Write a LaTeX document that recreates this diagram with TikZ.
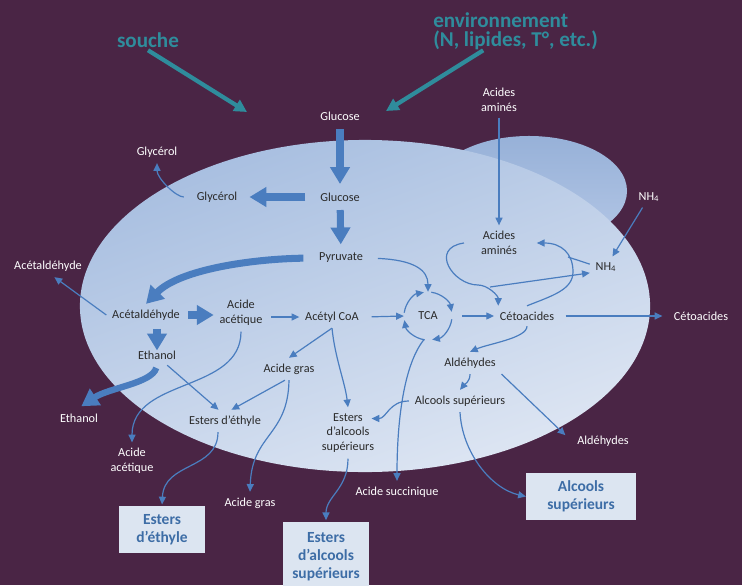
\documentclass[tikz,border=0pt]{standalone}
\usepackage{fontspec}
\setmainfont{Carlito}
\usepackage{tikz}
\usetikzlibrary{arrows.meta}

\definecolor{bgpurple}{HTML}{4A2545}
\definecolor{flowblue}{HTML}{4A7DBF}
\definecolor{tealc}{HTML}{2F8C9C}
\definecolor{inkdark}{HTML}{2A2A2A}
\definecolor{boxfill}{HTML}{DCE5F1}
\definecolor{boxtext}{HTML}{3D6DA6}
\definecolor{celltop}{HTML}{A7BEE0}
\definecolor{cellbottom}{HTML}{DEE6F3}
\definecolor{bumptop}{HTML}{97B1D8}
\definecolor{bumpbottom}{HTML}{B4C7E6}

\tikzstyle{intext} = [font=\fontsize{8.7}{10.6}\selectfont, text=inkdark, align=center, inner sep=4pt]
\tikzstyle{outtext} = [intext, text=white]
\tikzstyle{product} = [rectangle, fill=boxfill, text=boxtext, font=\fontsize{11}{12.8}\selectfont\bfseries, align=center, inner sep=0pt]
\tikzstyle{headline} = [font=\fontsize{15}{13.5}\selectfont\bfseries, text=tealc, inner sep=2pt]
\tikzstyle{flow} = [draw=flowblue, line width=0.85pt, -{Triangle[length=5.5pt, width=5pt]}]
\tikzstyle{bigflow} = [draw=flowblue, line width=5pt, -{Triangle[length=12pt, width=13.5pt]}, shorten >=2pt, shorten <=2pt]
\tikzstyle{factor} = [draw=tealc, line width=3pt, -{Triangle[length=9pt, width=9pt]}]

\begin{document}
\begin{tikzpicture}[x=0.025cm, y=0.025cm]

    % Background and cell
    \useasboundingbox (0,0) rectangle (742,-585);
    \fill [bgpurple] (0,0) rectangle (742,-585);
    \shade [top color=bumptop, bottom color=bumpbottom] (529,-191) ellipse [x radius=2.45cm, y radius=1.375cm];
    \shade [top color=celltop, bottom color=cellbottom, shading angle=20] (365,-306) ellipse [x radius=7.125cm, y radius=4.15cm];

    % Factors
    \node (souche) [headline, anchor=base] at (148,-47) {souche};
    \node (env) [headline, anchor=west, align=left, inner sep=0pt] at (433,-31.5) {environnement\\(N, lipides, T°, etc.)};
    \coordinate (cellL) at (247,-112);
    \coordinate (cellR) at (386,-111);

    % Nodes outside the cell
    \node (gluO) [outtext] at (340,-116) {Glucose};
    \node (glyO) [outtext] at (157,-152) {Glycérol};
    \node (acaO) [outtext] at (48,-266) {Acétaldéhyde};
    \node (ethO) [outtext] at (79,-418) {Ethanol};
    \node (aacO) [outtext] at (132,-461) {Acide\\acétique};
    \node (agO) [outtext] at (250,-503) {Acide gras};
    \node (succO) [outtext] at (397,-492) {Acide succinique};
    \node (aldO) [outtext] at (603,-441) {Aldéhydes};
    \node (cetO) [outtext] at (701,-316) {Cétoacides};
    \node (aaO) [outtext] at (499,-100) {Acides\\aminés};
    \node (nhO) [outtext] at (649,-197) {NH\textsubscript{4}};

    % Nodes inside the cell
    \node (glu) [intext] at (340,-197) {Glucose};
    \node (gly) [intext] at (217,-197) {Glycérol};
    \node (pyr) [intext] at (341,-258) {Pyruvate};
    \node (aca) [intext] at (146,-315) {Acétaldéhyde};
    \node (aac) [intext] at (241,-313) {Acide\\acétique};
    \node (acoa) [intext] at (332,-317) {Acétyl CoA};
    \node (tca) [intext, circle, minimum size=34pt, inner sep=0pt] at (428,-316) {TCA};
    \node (cet) [intext] at (527,-316) {Cétoacides};
    \node (aa) [intext] at (499,-243) {Acides\\aminés};
    \node (nh) [intext] at (606,-267) {NH\textsubscript{4}};
    \node (ald) [intext] at (470,-363) {Aldéhydes};
    \node (alc) [intext] at (460,-401) {Alcools supérieurs};
    \node (ag) [intext] at (289,-369) {Acide gras};
    \node (eas) [intext] at (348,-433) {Esters\\d’alcools\\supérieurs};
    \node (eth) [intext] at (157,-355) {Ethanol};
    \node (ee) [intext] at (225,-421) {Esters d’éthyle};
    \coordinate (ketoline) at (490,-287);
    \coordinate (nhjoin) at (568,-257);

    % Products
    \node (bee) [product, minimum width=61.7pt, minimum height=33.3pt] at (162,-529.5) {Esters\\d’éthyle};
    \node (beas) [product, minimum width=61pt, minimum height=50pt] at (326,-557) {Esters\\d’alcools\\supérieurs};
    \node (balc) [product, minimum width=78pt, minimum height=33.3pt] at (581,-496.5) {Alcools\\supérieurs};

    % Arrows
    \draw [factor] (souche.south) -- (cellL);
    \draw [factor] ([xshift=-23pt]env.south) -- (cellR);

    \draw [bigflow] (gluO) -- (glu);
    \draw [bigflow, shorten <=6.5pt, shorten >=4.5pt] (glu.west) -- (gly.east);
    \draw [bigflow] (glu) -- (pyr);
    \draw [bigflow, shorten <=7pt, shorten >=0pt] (pyr.west) .. controls +(-63,-1) and +(33,34) .. (aca.north);
    \draw [bigflow, shorten >=0pt] (aca.east) -- (aca.east -| aac.west);
    \draw [bigflow, shorten >=-4pt] (aca.south -| eth.north) -- (eth.north);
    \draw [bigflow, line width=4.5pt] (eth.south) .. controls +(-5,-18) and +(30,20) .. (ethO.north);

    \draw [flow, shorten <=5pt] (gly.west) .. controls +(-15,0) and +(0,-15) .. (glyO.south);
    \draw [flow] (aca.west) -- (acaO.-60);
    \draw [flow, shorten <=2pt] (aac.east |- acoa) -- (acoa.west);
    \draw [flow, shorten <=5pt] (acoa.east) -- (tca.west);
    \draw [flow, shorten <=6.5pt] (pyr.east) .. controls +(45,-2) and +(0,22) .. (tca.north);
    \foreach \a in {0,90,180,270}
        \draw [flow] ([shift={(\a+82:0.6cm)}]tca.center) arc [start angle=\a+82, end angle=\a+10, radius=0.6cm];
    \draw [flow, shorten <=7pt] (tca.east) -- (cet.west);
    \draw [flow, shorten <=4pt, shorten >=4pt] (cet.east) -- (cetO.west);
    \draw [flow] (aaO) -- (aa);
    \draw [flow] (nhO) -- (nh);
    \draw [flow] ([xshift=-8pt]aa.west) .. controls +(-35,-5) and +(-25,0) .. ++(14,-42) .. controls +(10,0) and +(0,10) .. ([xshift=3pt]cet.north west);
    \draw [flow] (ketoline) -- (nh.200);
    \draw [flow] (cet.north) .. controls +(25,10) and +(0,-18) .. ++(46,34) .. controls +(0,18) and +(25,0) .. ([xshift=10pt]aa.east);
    \draw [flow, -] (nh.170) -- (nhjoin);
    \draw [flow] (cet.south) .. controls +(0,-12) and +(18,8) .. (ald.north);
    \draw [flow] (ald.south) .. controls +(0,-8) and +(4,5) .. (alc.north);
    \draw [flow, shorten >=6pt] (ald.south east) -- (aldO.west);
    \draw [flow] (alc.west) .. controls +(-20,0) and +(15,0) .. ([shift={(-6pt,-8pt)}]eas.north east);
    \draw [flow] (alc.south) .. controls +(2,-40) and +(-35,8) .. (balc.west);
    \draw [flow] (tca.-100) .. controls +(-20,-25) and +(0,60) .. (succO.north);
    \draw [flow] (acoa.south) -- (ag.north);
    \draw [flow] (acoa.south) .. controls +(3,-30) and +(-3,25) .. (eas.north);
    \draw [flow] (ag.250) -- (ee.60);
    \draw [flow] (ag.south) .. controls +(-1,-56) and +(2,58) .. (agO.north);
    \draw [flow] (eth.-45) -- (ee.120);
    \draw [flow] (aac.south) .. controls +(0,-61) and +(0,65) .. (aacO.north);
    \draw [flow, shorten >=1pt] ([xshift=-5pt]ee.south) .. controls +(0,-38) and +(2,44) .. (bee.north);
    \draw [flow, shorten >=1pt] (eas.south) .. controls +(0,-30) and +(0,25) .. (beas.north);

\end{tikzpicture}
\end{document}
